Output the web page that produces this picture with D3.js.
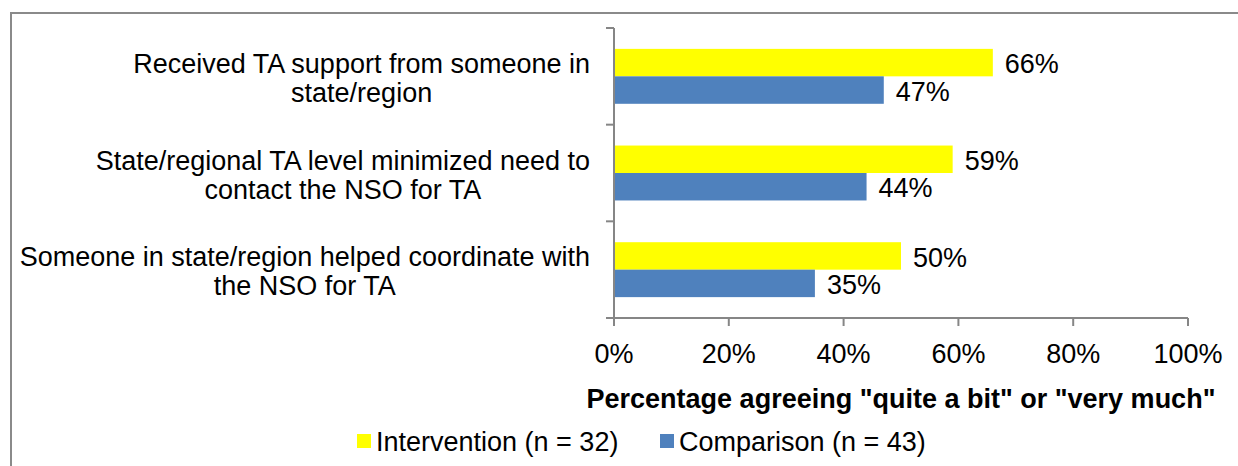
<!DOCTYPE html>
<html>
<head>
<meta charset="utf-8">
<script src="https://d3js.org/d3.v7.min.js"></script>
<style>
  body { margin: 0; background: #fff; }
  svg { display: block; font-family: "Liberation Sans", Arial, sans-serif; }
</style>
</head>
<body>
<script>
"use strict";

// chart data
var categories = [
  ["Received TA support from someone in", "state/region"],
  ["State/regional TA level minimized need to", "contact the NSO for TA"],
  ["Someone in state/region helped coordinate with", "the NSO for TA"]
];
var seriesNames = ["Intervention (n = 32)", "Comparison (n = 43)"];
var intervention = [0.66, 0.59, 0.50];
var comparison = [0.47, 0.44, 0.35];
var xTicks = [0, 0.2, 0.4, 0.6, 0.8, 1.0];
var colors = ["#FFFF00", "#4F81BD"];

function draw() {
    var width = 1238, height = 466;
    var plotLeft = 614, plotRight = 1188, plotTop = 28, plotBottom = 318;
    var labelRight = 590;
    var fontSize = "27px";

    var svg = d3.select("body").append("svg")
        .attr("width", width)
        .attr("height", height);

    // outer frame
    svg.append("rect")
        .attr("x", 11).attr("y", 13)
        .attr("width", width + 10).attr("height", height + 10)
        .attr("fill", "none")
        .attr("stroke", "#8a8a8a")
        .attr("stroke-width", 2);

    var x = d3.scaleLinear().domain([0, 1]).range([plotLeft, plotRight]);
    var y = d3.scaleBand().domain(d3.range(categories.length)).range([plotTop, plotBottom]);
    var inner = d3.scaleBand().domain([0, 1]).range([0, y.bandwidth()]).paddingInner(0).paddingOuter(0.76);

    var rows = d3.range(categories.length).map(function(i) {
        return [intervention[i], comparison[i]];
    });

    var g = svg.selectAll("g.cat").data(rows).enter().append("g")
        .attr("class", "cat")
        .attr("transform", function(d, i) { return "translate(0," + y(i) + ")"; });

    g.selectAll("rect").data(function(d) { return d; }).enter().append("rect")
        .attr("x", x(0))
        .attr("y", function(d, j) { return inner(j); })
        .attr("width", function(d) { return x(d) - x(0); })
        .attr("height", inner.bandwidth())
        .attr("fill", function(d, j) { return colors[j]; });

    g.selectAll("text.val").data(function(d) { return d; }).enter().append("text")
        .attr("class", "val")
        .attr("x", function(d) { return x(d) + 12; })
        .attr("y", function(d, j) { return inner(j) + inner.bandwidth() / 2 + 1; })
        .attr("dy", "0.36em")
        .style("font-size", fontSize)
        .text(function(d) { return Math.round(d * 100) + "%"; });

    // category labels: two centred lines, block right-aligned to the axis
    var labels = svg.selectAll("g.catlabel").data(categories).enter().append("g")
        .attr("class", "catlabel")
        .attr("transform", function(d, i) { return "translate(0," + (y(i) + y.bandwidth() / 2) + ")"; });
    labels.selectAll("text").data(function(d) { return d; }).enter().append("text")
        .attr("y", function(d, k) { return k === 0 ? -13 : 16; })
        .attr("dy", "0.36em")
        .attr("text-anchor", "middle")
        .style("font-size", fontSize)
        .text(function(d) { return d; });
    labels.each(function() {
        var texts = d3.select(this).selectAll("text");
        var maxW = d3.max(texts.nodes(), function(n) { return n.getComputedTextLength(); });
        texts.attr("x", labelRight - maxW / 2);
    });

    // axes
    var axisColor = "#868686";
    svg.append("line")
        .attr("x1", x(0)).attr("x2", x(0))
        .attr("y1", plotTop).attr("y2", plotBottom + 8)
        .attr("stroke", axisColor).attr("stroke-width", 2);
    svg.selectAll("line.ytick").data(d3.range(categories.length + 1)).enter().append("line")
        .attr("x1", x(0) - 8).attr("x2", x(0))
        .attr("y1", function(i) { return i < categories.length ? y(i) : plotBottom; })
        .attr("y2", function(i) { return i < categories.length ? y(i) : plotBottom; })
        .attr("stroke", axisColor).attr("stroke-width", 2);
    svg.append("line")
        .attr("x1", x(0) - 8).attr("x2", x(1))
        .attr("y1", plotBottom).attr("y2", plotBottom)
        .attr("stroke", axisColor).attr("stroke-width", 2);
    svg.selectAll("line.xtick").data(xTicks).enter().append("line")
        .attr("x1", function(d) { return x(d); }).attr("x2", function(d) { return x(d); })
        .attr("y1", plotBottom).attr("y2", plotBottom + 8)
        .attr("stroke", axisColor).attr("stroke-width", 2);
    svg.selectAll("text.xtick").data(xTicks).enter().append("text")
        .attr("x", function(d) { return x(d); })
        .attr("y", 353)
        .attr("dy", "0.36em")
        .attr("text-anchor", "middle")
        .style("font-size", fontSize)
        .text(function(d) { return Math.round(d * 100) + "%"; });

    svg.append("text")
        .attr("x", (plotLeft + plotRight) / 2)
        .attr("y", 398)
        .attr("dy", "0.36em")
        .attr("text-anchor", "middle")
        .style("font-size", fontSize)
        .style("font-weight", "bold")
        .text('Percentage agreeing "quite a bit" or "very much"');

    // legend
    var legendX = [357, 660];
    var lg = svg.selectAll("g.legend").data(seriesNames).enter().append("g")
        .attr("transform", function(d, i) { return "translate(" + legendX[i] + ",441)"; });
    lg.append("rect")
        .attr("x", 0).attr("y", -7)
        .attr("width", 14).attr("height", 14)
        .attr("fill", function(d, i) { return colors[i]; });
    lg.append("text")
        .attr("x", 19)
        .attr("dy", "0.36em")
        .style("font-size", fontSize)
        .text(function(d) { return d; });
}

draw();
</script>
</body>
</html>
